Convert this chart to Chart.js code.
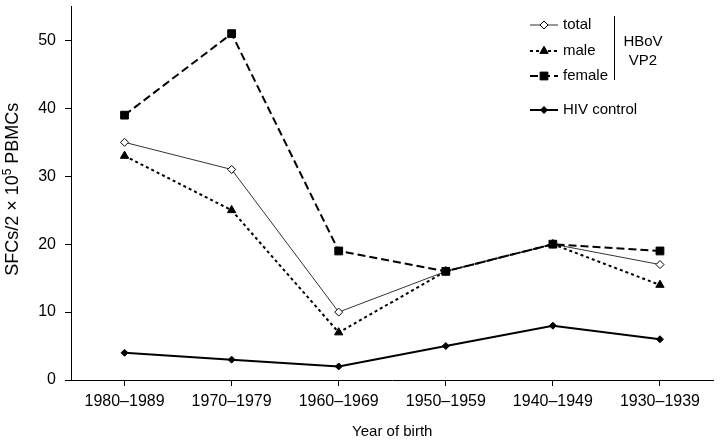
<!DOCTYPE html>
<html><head><meta charset="utf-8">
<script src="https://cdn.jsdelivr.net/npm/chart.js@4/dist/chart.umd.min.js"></script>
<style>html,body{margin:0;padding:0;background:#fff}#wrap{width:720px;height:442px}</style>
</head><body><div id="wrap"><canvas id="c" width="720" height="442"></canvas></div>
<script>
const categories = ["1980–1989","1970–1979","1960–1969","1950–1959","1940–1949","1930–1939"];
const totalVals = [35, 31, 10, 16, 20, 17];
const maleVals = [33, 25, 7, 16, 20, 14];
const femaleVals = [39, 51, 19, 16, 20, 19];
const hivVals = [4, 3, 2, 5, 8, 6];
const yTicks = [0, 10, 20, 30, 40, 50];

const FONT = "'Liberation Sans', Arial, sans-serif";

const legendItems = [
  {label:"total", dash:[], width:1, color:"#333", style:"rectRot", radius:4, fill:"#fff", y:25},
  {label:"male", dash:[3,3], width:2, color:"#000", style:"triangle", radius:4.8, fill:"#000", y:51},
  {label:"female", dash:[8,4], width:2, color:"#000", style:"rect", radius:5.5, fill:"#000", y:76},
  {label:"HIV control", dash:[], width:2, color:"#000", style:"rectRot", radius:3.5, fill:"#000", y:110}
];

const decorPlugin = {
  id:"decor",
  afterDraw(chart){
    const ctx = chart.ctx;
    ctx.save();
    // legend
    legendItems.forEach(it=>{
      ctx.strokeStyle = it.color;
      ctx.lineWidth = it.width;
      ctx.setLineDash(it.dash);
      ctx.beginPath(); ctx.moveTo(530, it.y); ctx.lineTo(558, it.y); ctx.stroke();
      ctx.setLineDash([]);
      ctx.fillStyle = it.fill;
      ctx.lineWidth = 1;
      ctx.strokeStyle = "#000";
      Chart.helpers.drawPoint(ctx, {pointStyle: it.style, radius: it.radius, borderWidth:1}, 544, it.y);
      ctx.fillStyle = "#000";
      ctx.font = "15px " + FONT;
      ctx.textBaseline = "middle";
      ctx.textAlign = "left";
      ctx.fillText(it.label, 563, it.y);
    });
    ctx.strokeStyle = "#000"; ctx.lineWidth = 1;
    ctx.beginPath(); ctx.moveTo(614.5, 16); ctx.lineTo(614.5, 80); ctx.stroke();
    ctx.textAlign = "center";
    ctx.fillText("HBoV", 643, 42);
    ctx.fillText("VP2", 643, 61);

    // x title
    const ca = chart.chartArea;
    ctx.font = "15px " + FONT;
    ctx.textAlign = "center";
    ctx.textBaseline = "middle";
    ctx.fillText("Year of birth", (ca.left + ca.right) / 2, 432);

    // y title with superscript
    const big = "18px " + FONT, small = "12px " + FONT;
    const p1 = "SFCs/2 × 10", p2 = "5", p3 = " PBMCs";
    ctx.font = big; const w1 = ctx.measureText(p1).width, w3 = ctx.measureText(p3).width;
    ctx.font = small; const w2 = ctx.measureText(p2).width;
    const total = w1 + w2 + w3;
    ctx.translate(18, (ca.top + ca.bottom) / 2 - 4);
    ctx.rotate(-Math.PI / 2);
    ctx.textAlign = "left";
    ctx.textBaseline = "alphabetic";
    let x = -total / 2;
    ctx.font = big; ctx.fillText(p1, x, 0); x += w1;
    ctx.font = small; ctx.fillText(p2, x, -7); x += w2;
    ctx.font = big; ctx.fillText(p3, x, 0);
    ctx.restore();
  }
};

function ds(label, data, opts){
  return Object.assign({label, data, tension:0, fill:false}, opts);
}

new Chart(document.getElementById("c"), {
  type:"line",
  data:{
    labels: categories,
    datasets:[
      ds("HIV control", hivVals, {borderColor:"#000", borderWidth:2, pointStyle:"rectRot", pointRadius:3.5, pointBackgroundColor:"#000", pointBorderColor:"#000", pointBorderWidth:1}),
      ds("female", femaleVals, {borderColor:"#000", borderWidth:2, borderDash:[8,4], pointStyle:"rect", pointRadius:5.5, pointBackgroundColor:"#000", pointBorderColor:"#000", pointBorderWidth:1}),
      ds("male", maleVals, {borderColor:"#000", borderWidth:2, borderDash:[3,3], pointStyle:"triangle", pointRadius:4.8, pointBackgroundColor:"#000", pointBorderColor:"#000", pointBorderWidth:1}),
      ds("total", totalVals, {borderColor:"#333", borderWidth:1, pointStyle:"rectRot", pointRadius:4, pointBackgroundColor:"#fff", pointBorderColor:"#000", pointBorderWidth:1})
    ]
  },
  options:{
    responsive:false,
    animation:false,
    layout:{padding:{top:5, right:3, left:0, bottom:0}},
    plugins:{legend:{display:false}, tooltip:{enabled:false}},
    scales:{
      x:{
        offset:true,
        afterFit(axis){ axis.height = 62; axis.paddingLeft = 0; axis.paddingRight = 0; },
        grid:{drawOnChartArea:false, drawTicks:true, tickLength:6, color:"#000"},
        border:{color:"#000", width:1},
        ticks:{color:"#000", font:{family:FONT, size:16}, padding:6, maxRotation:0, autoSkip:false}
      },
      y:{
        min:0, max:55,
        afterBuildTicks(axis){ axis.ticks = yTicks.map(v=>({value:v})); },
        afterFit(axis){ axis.width = 71; axis.paddingTop = 0; axis.paddingBottom = 0; },
        grid:{drawOnChartArea:false, drawTicks:true, tickLength:6, color:"#000"},
        border:{color:"#000", width:1},
        ticks:{color:"#000", font:{family:FONT, size:16}, padding:9}
      }
    }
  },
  plugins:[decorPlugin]
});
</script>
</body></html>
